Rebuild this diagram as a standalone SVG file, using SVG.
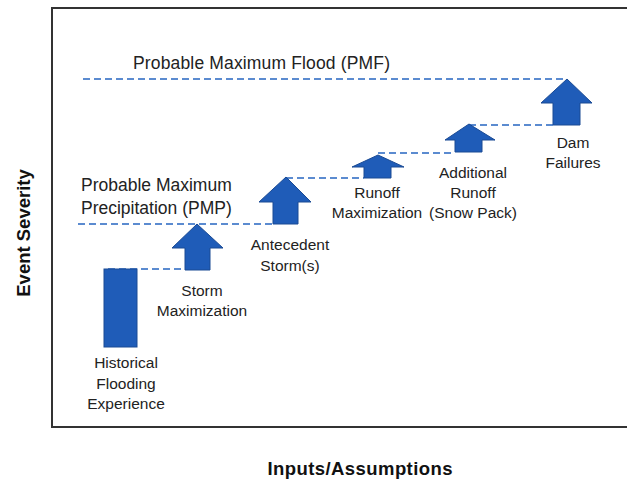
<svg xmlns="http://www.w3.org/2000/svg" width="627" height="479" viewBox="0 0 627 479">
<style>
.t{font-family:"Liberation Sans",Arial,sans-serif;font-size:15.5px;fill:#222;text-anchor:middle}
.big{font-family:"Liberation Sans",Arial,sans-serif;font-size:17.5px;fill:#222}
.ax{font-family:"Liberation Sans",Arial,sans-serif;font-size:18.5px;font-weight:bold;fill:#111;text-anchor:middle}
.arr{fill:#1f5cb8;stroke:#1a4a94;stroke-width:1}
.dash{stroke:#5b8bd0;stroke-width:2;stroke-dasharray:7 4;fill:none}
</style>
<rect x="0" y="0" width="627" height="479" fill="#fff"/>
<rect x="52" y="8" width="580" height="419" fill="none" stroke="#333" stroke-width="2"/>
<g id="connectors">
<line class="dash" x1="83" y1="79" x2="567" y2="79"/>
<line class="dash" x1="469" y1="125" x2="553" y2="125"/>
<line class="dash" x1="378" y1="153" x2="455" y2="153"/>
<line class="dash" x1="286" y1="178" x2="364" y2="178"/>
<line class="dash" x1="78" y1="224" x2="273" y2="224"/>
<line class="dash" x1="108" y1="269" x2="185" y2="269"/>
</g>
<g id="pmf"><text class="big" x="133" y="69" textLength="257">Probable Maximum Flood (PMF)</text></g>
<g id="pmp"><text class="big" x="81" y="191">Probable Maximum</text><text class="big" x="81" y="214">Precipitation (PMP)</text></g>
<g id="historical">
<rect class="arr" x="104" y="269" width="33" height="78"/>
<text class="t" x="126" y="368">Historical</text><text class="t" x="126" y="389">Flooding</text><text class="t" x="126" y="409">Experience</text>
</g>
<g id="storm">
<polygon class="arr" points="197,224 223,248 210,248 210,270 185,270 185,248 172,248"/>
<text class="t" x="202" y="296">Storm</text><text class="t" x="202" y="316">Maximization</text>
</g>
<g id="antecedent">
<polygon class="arr" points="286,177 311,202 298,202 298,224 273,224 273,202 259,202"/>
<text class="t" x="290" y="250">Antecedent</text><text class="t" x="290" y="271">Storm(s)</text>
</g>
<g id="runoff">
<polygon class="arr" points="378,155 404,167 391,167 391,178 364,178 364,167 352,167"/>
<text class="t" x="377" y="198">Runoff</text><text class="t" x="377" y="218">Maximization</text>
</g>
<g id="additional">
<polygon class="arr" points="469,124 495,140 482,140 482,152 455,152 455,140 445,140"/>
<text class="t" x="473" y="178">Additional</text><text class="t" x="473" y="198">Runoff</text><text class="t" x="473" y="218">(Snow Pack)</text>
</g>
<g id="dam">
<polygon class="arr" points="567,79 592,103 580,103 580,125 553,125 553,103 541,103"/>
<text class="t" x="573" y="148">Dam</text><text class="t" x="573" y="168">Failures</text>
</g>
<g id="yaxis"><text class="ax" transform="translate(30,233) rotate(-90)">Event Severity</text></g>
<g id="xaxis"><text class="ax" x="360" y="475" textLength="185">Inputs/Assumptions</text></g>
</svg>
